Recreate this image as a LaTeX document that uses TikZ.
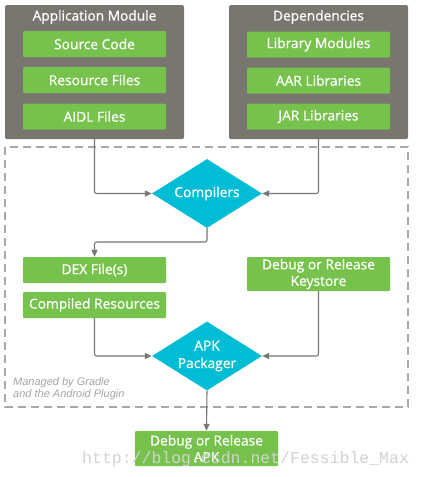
\documentclass[tikz,border=0pt]{standalone}
\usepackage{fontspec}
\setmainfont{Open Sans}
\newfontfamily\medfont{Open Sans}[FakeBold=0.7]
\newfontfamily\notefont{Liberation Sans}
\usetikzlibrary{shapes.geometric,arrows.meta,calc}
\definecolor{modgray}{HTML}{79756F}
\definecolor{grn}{HTML}{76C24D}
\definecolor{cyn}{HTML}{00BCD4}
\definecolor{conncol}{HTML}{7A7672}
\definecolor{dashcol}{HTML}{ABA7A3}
\definecolor{notecol}{HTML}{A8A5A2}
\definecolor{wmcol}{HTML}{D2D2D2}
\tikzset{
  module/.style={fill=modgray, rounded corners=1.5pt, minimum width=179pt, minimum height=134pt, inner sep=0pt},
  title/.style={text=white, font=\medfont\fontsize{13.7}{15}\selectfont, inner sep=0pt},
  gbox/.style={fill=grn, rounded corners=1pt, text=white, minimum width=143pt, minimum height=26pt, inner sep=0pt, align=center, font=\medfont\fontsize{13.8}{16.5}\selectfont},
  dia/.style={diamond, fill=cyn, text=white, aspect=1.6, minimum width=110pt, minimum height=69pt, inner sep=0pt, align=center, font=\medfont\fontsize{13.8}{17.5}\selectfont},
  conn/.style={draw=conncol, line width=1.1pt, rounded corners=2pt, -{Triangle[length=7pt,width=6pt]}},
  note/.style={text=notecol, font=\notefont\fontsize{11}{12}\selectfont\itshape, align=left, inner sep=0pt, anchor=west},
}
\begin{document}
\begin{tikzpicture}[x=1pt,y=-1pt]
\useasboundingbox (0,0) rectangle (422,477);
\fill[white] (0,0) rectangle (422,477);
% dashed frame
\draw[dashcol, line width=1.4pt, dash pattern=on 8pt off 5pt] (5,147) rectangle (408,407);
% modules
\node[module] (app) at (94.5,72) {};
\node[title] (apptitle) at (94.5,17) {Application Module};
\node[gbox] (src) at (94.5,44) {Source Code};
\node[gbox] (res) at (94.5,80) {Resource Files};
\node[gbox] (aidl) at (94.5,116.5) {AIDL Files};
\node[module] (dep) at (318.5,72) {};
\node[title] (deptitle) at (318.5,17) {Dependencies};
\node[gbox] (lib) at (318.5,44.5) {Library Modules};
\node[gbox] (aar) at (318.5,80.5) {AAR Libraries};
\node[gbox] (jar) at (318.5,116.5) {JAR Libraries};
% compilers
\node[dia] (comp) at (207,193.5) {Compilers};
\node[gbox] (dex) at (94.5,270) {DEX File(s)};
\node[gbox] (cres) at (94.5,305) {Compiled Resources};
\node[gbox, minimum height=34pt] (key) at (318.5,274) {Debug or Release\\Keystore};
\node[dia] (apk) at (207,356) {APK\\Packager};
\node[gbox, minimum height=35pt] (out) at (206.5,448.5) {Debug or Release\\APK};
\node[note] (managed) at (13,389) {Managed by Gradle\\and the Android Plugin};
% connectors
\coordinate (b1) at (94.5,242);
\draw[conn] (app.south) |- (comp.west);
\draw[conn] (dep.south) |- (comp.east);
\draw[conn] (comp.south) |- (b1) -- (dex.north);
\draw[conn] (cres.south) |- (apk.west);
\draw[conn] (key.south) |- (apk.east);
\draw[conn] (apk.south) -- (out.north);
% watermark
\node[text=wmcol, font=\fontspec{Liberation Mono}\fontsize{16.5}{18}\selectfont, anchor=base west, inner sep=0pt] (wm) at (82,463) {http://blog.csdn.net/Fessible\_Max};
\end{tikzpicture}
\end{document}
